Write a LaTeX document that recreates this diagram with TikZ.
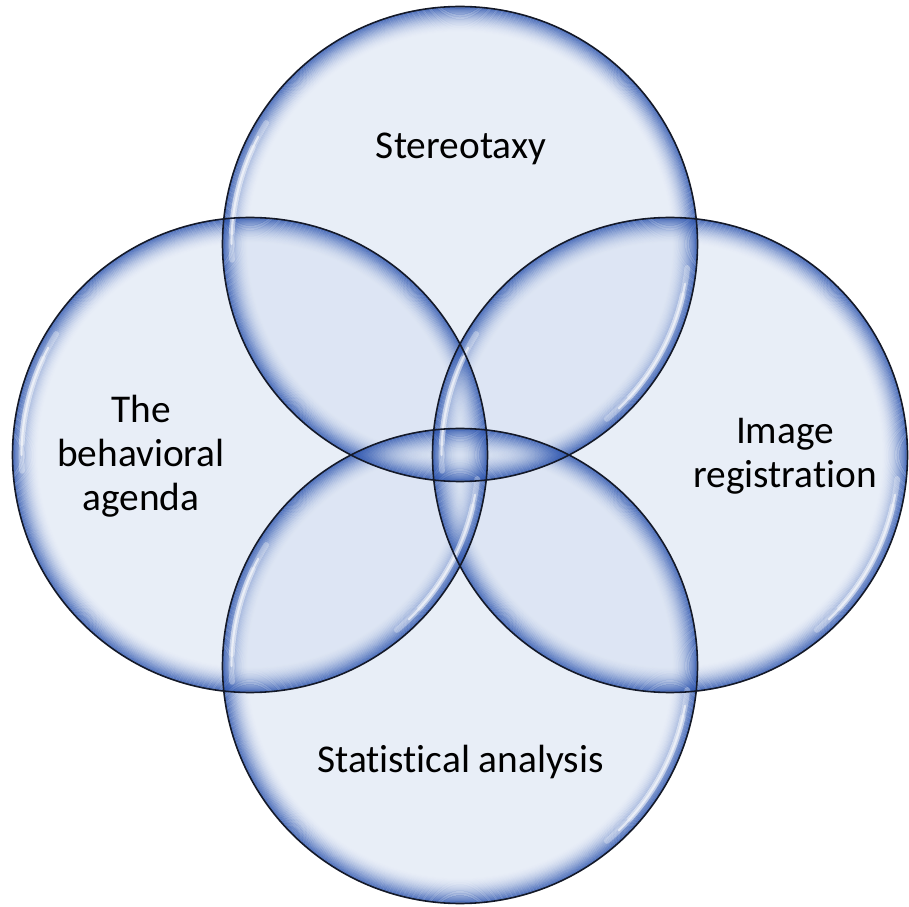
\documentclass[tikz,border=0pt]{standalone}
\usepackage{fontspec}
\setmainfont{Carlito}[Ligatures=NoCommon]
\usepackage{tikz}
\usetikzlibrary{positioning}

\definecolor{bubin}{RGB}{210,221,240}
\definecolor{bubrim}{RGB}{45,85,175}
\definecolor{bubline}{RGB}{20,25,40}

\begin{document}
\begin{tikzpicture}[
		bubble/.style={circle, minimum size=9.5cm, inner sep=0pt, outer sep=0pt, fill=bubin, fill opacity=0.5},
		label/.style={align=center, font=\fontsize{22.4}{25}\selectfont, text=black}
	]
				\useasboundingbox (0,0) rectangle (18.18,18.12);
				\coordinate (mid) at (9.2,9.02);
				\node (stereo) [bubble, above of=mid, node distance=4.22cm] {};
				\node (behav) [bubble, left of=mid, node distance=4.2cm] {};
				\node (image) [bubble, right of=mid, node distance=4.2cm] {};
				\node (stats) [bubble, below of=mid, node distance=4.22cm] {};
				
				% Rims
				\foreach \n in {stereo,behav,image,stats} {
					\foreach \i in {0,...,23}
						\draw[bubrim, line width=0.024cm, draw opacity={0.8*(1-\i/24)^2}] (\n.center) circle ({4.75-0.022*\i-0.012});
				}
				
				% Highlights
				\foreach \n in {stereo,behav,image,stats} {
					\foreach \a/\b in {148/184,155/177,-6/-50,-13/-42}
						\draw[white, line width=3.2pt, draw opacity=0.3, line cap=round] (\n.center) ++(\a:4.57) arc (\a:\b:4.57);
					\foreach \a/\b in {152/180,-10/-46}
						\draw[white, line width=1.2pt, draw opacity=0.6, line cap=round] (\n.center) ++(\a:4.57) arc (\a:\b:4.57);
				}
				
				% Outlines
				\foreach \n in {stereo,behav,image,stats}
					\draw[bubline, line width=0.9pt] (\n.center) circle (4.75);
				
				% Labels
				\node (t1) [label] at (9.22,15.15) {Stereotaxy};
				\node (t2) [label] at (2.82,9.0) {The\\behavioral\\agenda};
				\node (t3) [label] at (15.7,9.0) {Image\\registration};
				\node (t4) [label] at (9.21,2.88) {Statistical analysis};
			\end{tikzpicture}
\end{document}
